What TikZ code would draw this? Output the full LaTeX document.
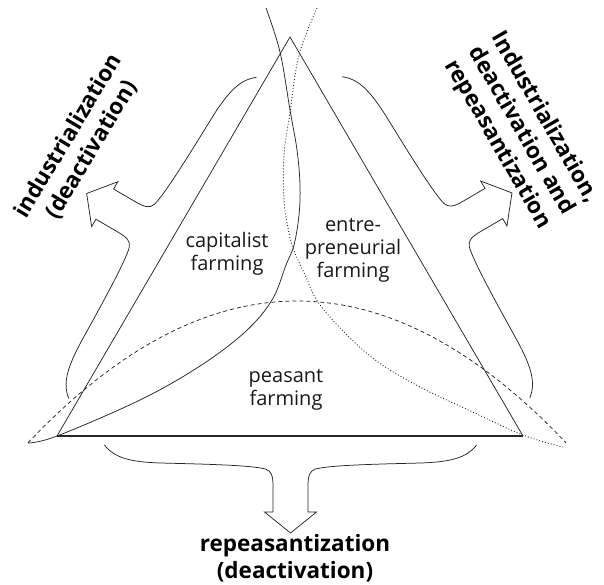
\documentclass[tikz,border=0pt]{standalone}
\usepackage{fontspec}
\setmainfont{Open Sans}
\begin{document}
\begin{tikzpicture}[x=1pt,y=-1pt,
  line/.style={line width=0.75pt, black!85},
  lab/.style={font=\fontsize{20}{23}\selectfont, align=center, inner sep=0pt, text=black!90},
  big/.style={font=\fontsize{22.5}{27}\selectfont\bfseries, align=center, inner sep=0pt, text=black},
  pics/brace/.style={code={
    \draw[line, line join=miter]
      (-186,-27) .. controls (-176,-14) and (-160,-10) .. (-130,-9)
      .. controls (-90,-8) and (-40,-7) .. (-25,-3)
      .. controls (-19,-1) and (-17.5,4) .. (-17.5,14)
      -- (-17.5,40) -- (-26,40) -- (0,61) -- (26,40) -- (17.5,40) -- (17.5,14)
      .. controls (17.5,4) and (19,-1) .. (25,-3)
      .. controls (40,-7) and (90,-8) .. (130,-9)
      .. controls (160,-10) and (176,-14) .. (186,-27);
  }}
]
\useasboundingbox (0,0) rectangle (604,584);
\coordinate (A) at (290,37);
\coordinate (L) at (57,436);
\coordinate (R) at (523,436);
% capitalist farming boundary
\draw[line] plot[smooth, tension=0.6] coordinates {(266,8) (280,52) (290,110) (297,150) (300,185) (299,215) (294,245) (286,265) (272,300) (245,332) (200,366) (140,400) (57,436) (28,443)};
% entrepreneurial farming boundary
\draw[line, line width=0.9pt, dash pattern=on 0.9pt off 2.1pt] plot[smooth, tension=0.6] coordinates {(317,8) (299,55) (290,113) (284,155) (284,200) (288,228) (293,248) (305,275) (318,302) (345,333) (378,362) (420,387) (462,407) (523,435) (563,447)};
% peasant farming boundary
\draw[line, dash pattern=on 4pt off 3pt] plot[domain=28:566, samples=90] (\x, {301+0.04427*(\x-297)*0.04427*(\x-297)});
% triangle
\draw[line] (L) -- (A) -- (R);
\draw[line, line width=1.1pt] (L) -- (R);
% braces
\path (139.3,224.3) pic[rotate=-120.3] {brace};
\path (459.3,223.7) pic[rotate=120.3] {brace};
\path (290.5,472) pic {brace};
% labels
\node[big, rotate=59] (lt) at (80,143) {industrialization\\(deactivation)};
\node[big, rotate=-60] (rt) at (521,131) {Industrialization,\\deactivation and\\repeasantization};
\node[big] (bt) at (295,558) {repeasantization\\(deactivation)};
\node[lab] (cap) at (227,254) {capitalist\\farming};
\node[lab] (ent) at (353,250) {entre-\\preneurial\\farming};
\node[lab] (pea) at (286,390) {peasant\\farming};
\end{tikzpicture}
\end{document}
